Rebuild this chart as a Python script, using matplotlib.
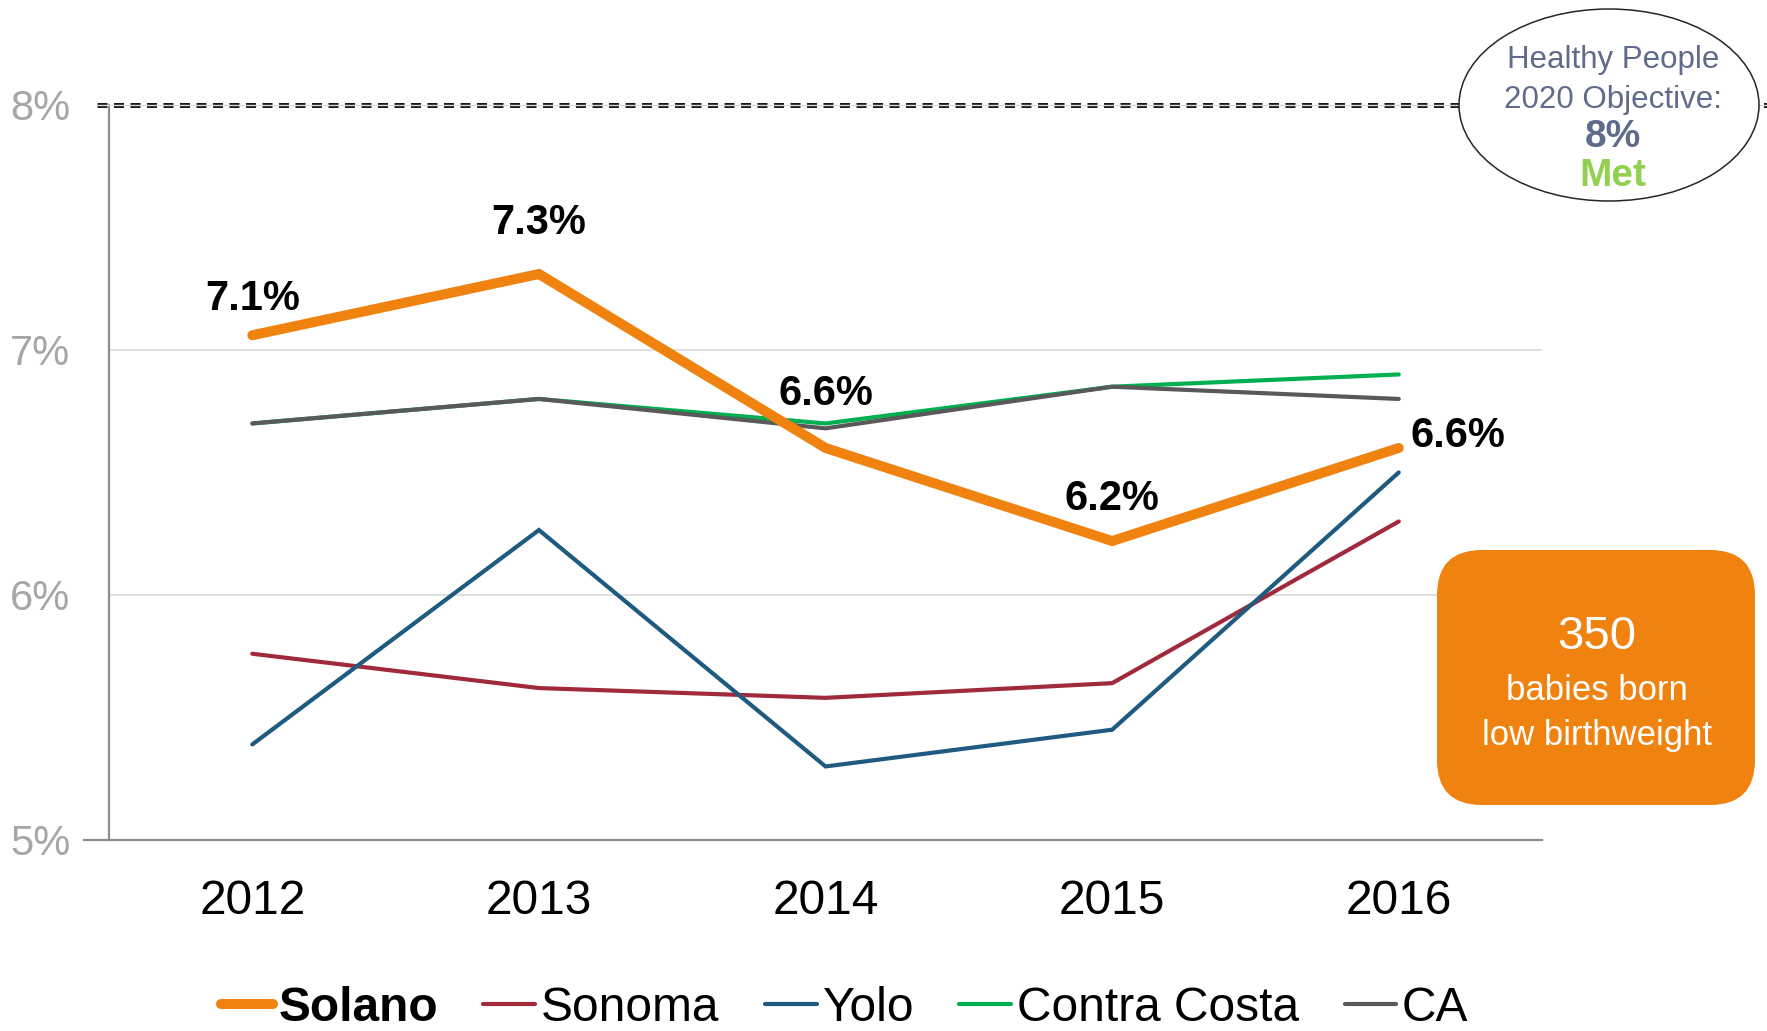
import matplotlib
matplotlib.use("Agg")
import matplotlib.pyplot as plt
from matplotlib.patches import Ellipse, FancyBboxPatch

plt.rcParams['font.family'] = ['Liberation Sans', 'DejaVu Sans']

# Data
years = [2012, 2013, 2014, 2015, 2016]
solano = [7.06, 7.31, 6.60, 6.22, 6.60]
sonoma = [5.76, 5.62, 5.58, 5.64, 6.30]
yolo = [5.39, 6.265, 5.30, 5.45, 6.50]
contra_costa = [6.70, 6.80, 6.70, 6.85, 6.90]
ca = [6.70, 6.80, 6.68, 6.85, 6.80]
solano_labels = ['7.1%', '7.3%', '6.6%', '6.2%', '6.6%']
y_ticks = [5, 6, 7, 8]
objective = 8

# Colors
c_solano = '#F0820F'
c_sonoma = '#A02A3C'
c_yolo = '#1F5A80'
c_cc = '#00B050'
c_ca = '#595959'
c_slate = '#5F6B8B'

fig = plt.figure(figsize=(17.67, 10.31), dpi=100)
ax = fig.add_axes([0.0617, 0.1853, 0.8110, 0.7129])

ax.set_xlim(2011.5, 2016.5)
ax.set_ylim(5, 8)

# Gridlines
for y in [6, 7]:
    ax.axhline(y, color='#D9D9D9', lw=1.2, zorder=1)

# Objective line (8%) running out past the ellipse
ytr = ax.get_yaxis_transform()
ax.plot([-0.0084, 1.162], [objective, objective], transform=ytr, color='#1a1a1a',
        lw=3.6, ls=(0, (2.0, 1.3)), clip_on=False, zorder=2)
ax.plot([-0.0084, 1.162], [objective, objective], transform=ytr, color='#D9D9D9',
        lw=1.0, clip_on=False, zorder=2.1)

# Axis lines
for s in ax.spines.values():
    s.set_visible(False)
ax.plot([-0.0174, 1.0], [5, 5], transform=ytr, color='#8C8C8C', lw=1.6, clip_on=False, zorder=2)
ax.plot([0, 0], [5, 8], transform=ytr, color='#8C8C8C', lw=1.6, clip_on=False, zorder=2)

# Series
kw = dict(solid_capstyle='round', solid_joinstyle='miter', zorder=3)
ax.plot(years, sonoma, color=c_sonoma, lw=3.0, label='Sonoma', **kw)
ax.plot(years, yolo, color=c_yolo, lw=3.0, label='Yolo', **kw)
ax.plot(years, contra_costa, color=c_cc, lw=3.0, label='Contra Costa', **kw)
ax.plot(years, ca, color=c_ca, lw=3.0, label='CA', **kw)
ax.plot(years, solano, color=c_solano, lw=7.2, label='Solano',
        solid_capstyle='round', solid_joinstyle='miter', zorder=4)

# Solano data labels
offsets = [(0, 0.15), (0, 0.21), (0, 0.22), (0, 0.17), (0.205, 0.05)]
for x, y, t, (dx, dy) in zip(years, solano, solano_labels, offsets):
    ax.text(x + dx, y + dy, t, ha='center', va='center', fontsize=30,
            fontweight='bold', color='black', zorder=5)

# Ticks
ax.set_xticks(years)
ax.set_xticklabels([str(y) for y in years])
ax.set_yticks(y_ticks)
ax.set_yticklabels([f'{y}%' for y in y_ticks])
ax.tick_params(axis='x', length=0, pad=28, labelsize=34.5, labelcolor='black')
ax.tick_params(axis='y', length=0, pad=28, labelsize=30, labelcolor='#A6A6A6')

# Legend
handles, labels = ax.get_legend_handles_labels()
order = [4, 0, 1, 2, 3]
leg = fig.legend([handles[i] for i in order], [labels[i] for i in order],
                 loc='center', bbox_to_anchor=(0.478, 0.022), ncol=5, frameon=False,
                 fontsize=34.5, handlelength=1.08, handletextpad=0.12,
                 columnspacing=0.95, borderpad=0)
leg.get_texts()[0].set_fontweight('bold')

# Objective ellipse
inch = fig.dpi_scale_trans
ell = Ellipse((16.09, 9.26), 3.0, 1.92, transform=inch, facecolor='white',
              edgecolor='#262626', lw=1.1, zorder=10)
fig.patches.append(ell)
fig.text(16.13, 9.71, 'Healthy People', transform=inch, ha='center', va='center',
         fontsize=22.5, color=c_slate, zorder=11)
fig.text(16.13, 9.31, '2020 Objective:', transform=inch, ha='center', va='center',
         fontsize=22.5, color=c_slate, zorder=11)
fig.text(16.13, 8.94, '8%', transform=inch, ha='center', va='center',
         fontsize=28, fontweight='bold', color=c_slate, zorder=11)
fig.text(16.13, 8.55, 'Met', transform=inch, ha='center', va='center',
         fontsize=28, fontweight='bold', color='#92D050', zorder=11)

# Orange info box
box = FancyBboxPatch((14.37, 2.26), 3.18, 2.55, boxstyle='round,pad=0,rounding_size=0.45',
                     transform=inch, facecolor=c_solano, edgecolor='none', zorder=10)
fig.patches.append(box)
fig.text(15.97, 3.94, '350', transform=inch, ha='center', va='center',
         fontsize=34, color='white', zorder=11)
fig.text(15.97, 3.41, 'babies born', transform=inch, ha='center', va='center',
         fontsize=25, color='white', zorder=11)
fig.text(15.97, 2.95, 'low birthweight', transform=inch, ha='center', va='center',
         fontsize=25, color='white', zorder=11)

fig.savefig('out.png', dpi=100)
